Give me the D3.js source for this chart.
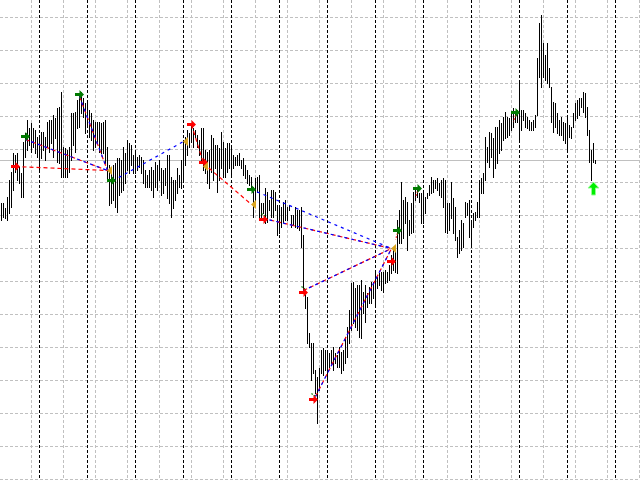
<!DOCTYPE html>
<html><head><meta charset="utf-8">
<script src="https://cdn.jsdelivr.net/npm/d3@7"></script>
<style>html,body{margin:0;padding:0;background:#fff;overflow:hidden}svg{display:block}</style>
</head><body><svg id="c" width="640" height="480"></svg>
<script>
// Bar highs / lows (price in points, 4-digit quote x 10000)
const highs = [
13397,13397,13392,13403,13420,13428,13447,13445,13447,13433,13427,13458,13467,13480,13472,13477,13472,13470,13463,13465,
13468,13468,13463,13478,13480,13480,13485,13482,13492,13493,13508,13453,13452,13450,13453,13487,13487,13488,13500,13505,
13508,13502,13497,13500,13490,13487,13480,13478,13478,13478,13477,13478,13480,13453,13435,13430,13435,13437,13442,13442,
13440,13453,13447,13460,13457,13455,13445,13448,13443,13445,13443,13440,13430,13425,13430,13433,13430,13438,13435,13440,
13432,13430,13432,13445,13445,13423,13420,13420,13432,13425,13440,13458,13463,13470,13467,13475,13472,13470,13465,13460,
13472,13472,13450,13448,13450,13465,13462,13455,13455,13452,13468,13458,13452,13457,13457,13452,13445,13443,13445,13447,
13440,13442,13435,13430,13425,13423,13413,13422,13423,13425,13397,13397,13412,13408,13400,13410,13410,13408,13395,13393,
13393,13398,13400,13393,13395,13385,13385,13393,13390,13390,13393,13365,13307,13303,13267,13257,13257,13230,13223,13232,
13250,13252,13250,13250,13247,13250,13253,13247,13245,13253,13248,13250,13263,13273,13290,13317,13318,13312,13315,13315,
13320,13308,13315,13307,13313,13318,13318,13328,13323,13327,13328,13328,13330,13328,13335,13345,13350,13348,13380,13390,
13418,13400,13403,13398,13380,13397,13408,13412,13412,13407,13407,13408,13403,13407,13415,13423,13420,13420,13422,13417,
13420,13422,13420,13397,13397,13418,13402,13393,13363,13370,13380,13377,13398,13397,13400,13380,13387,13388,13398,13420,
13422,13427,13463,13453,13468,13467,13462,13473,13473,13480,13477,13483,13488,13483,13482,13488,13492,13487,13490,13518,
13490,13490,13487,13483,13480,13478,13480,13485,13542,13577,13585,13557,13545,13557,13532,13513,13498,13497,13487,13480,
13483,13478,13477,13483,13475,13473,13487,13497,13500,13502,13502,13508,13507,13493,13470,13450,13457,13440];
const lows = [
13380,13383,13382,13380,13387,13393,13410,13428,13420,13417,13403,13403,13443,13450,13455,13448,13453,13447,13443,13430,
13442,13450,13440,13453,13448,13457,13443,13462,13438,13437,13423,13423,13423,13423,13428,13440,13455,13448,13472,13473,
13487,13483,13467,13473,13463,13460,13450,13453,13458,13448,13447,13447,13437,13422,13395,13397,13400,13393,13388,13405,
13408,13410,13417,13430,13427,13435,13427,13427,13430,13433,13427,13417,13413,13413,13413,13410,13403,13413,13410,13420,
13405,13407,13415,13402,13397,13383,13392,13400,13407,13413,13412,13418,13435,13445,13453,13458,13453,13463,13453,13445,
13440,13430,13427,13417,13412,13428,13420,13432,13408,13420,13432,13423,13423,13428,13432,13423,13432,13435,13435,13435,
13432,13425,13422,13417,13415,13410,13383,13397,13408,13380,13383,13387,13377,13378,13390,13383,13383,13390,13365,13367,
13373,13378,13380,13380,13390,13373,13375,13373,13372,13370,13353,13308,13292,13257,13253,13220,13227,13207,13177,13210,
13227,13225,13230,13220,13233,13237,13230,13237,13233,13233,13227,13230,13237,13243,13257,13270,13277,13273,13270,13263,
13262,13287,13278,13293,13297,13297,13302,13293,13312,13315,13310,13308,13317,13318,13320,13327,13330,13328,13327,13357,
13357,13362,13377,13350,13365,13367,13368,13400,13403,13398,13377,13377,13387,13402,13405,13407,13408,13412,13410,13405,
13403,13393,13368,13367,13370,13382,13367,13360,13343,13347,13350,13353,13383,13385,13363,13353,13373,13380,13383,13383,
13407,13407,13420,13438,13433,13443,13423,13432,13437,13447,13450,13460,13462,13463,13465,13470,13473,13478,13478,13460,
13470,13480,13473,13472,13470,13470,13470,13473,13485,13523,13513,13523,13520,13517,13513,13478,13468,13473,13467,13465,
13465,13460,13457,13448,13463,13462,13473,13480,13482,13485,13493,13488,13483,13465,13438,13420,13438,13437];

const priceGrid = [13583,13550,13517,13484,13451,13418,13385,13352,13319,13286,13253,13220,13187,13154,13121];
const gridBars = [15,31,47,63,79,95,111,127,143,159,175,191,207,223,239,255,271,287,303,319];
const dayStarts = [19,43,67,91,115,139,163,187,211,235,259,283,307];
const lastPrice = 13440;

// markers: [bar index, price]
const redArrows = [[7,13434],[95,13476],[101,13438],[131,13381],[151,13308],[156,13201],[195,13339]];
const greenArrows = [[12,13464],[39,13506],[55,13420],[125,13411],[198,13370],[208,13412],[257,13488]];
const goldTips = [[53,13430],[91,13459],[101,13434],[125,13396],[195,13352]];
const buySignal = [[296,13412]];

// dashed pattern lines: [[barA, priceA],[barB, priceB]]
const redLines = [
  [[7,13434],[53,13430]], [[12,13461],[53,13430]], [[39,13504],[53,13430]],
  [[95,13476],[101,13437]], [[101,13437],[125,13396]],
  [[131,13382],[195,13352]], [[151,13310],[195,13352]], [[157,13204],[195,13352]]
];
const blueLines = [
  [[12,13461],[53,13430]], [[39,13504],[53,13430]], [[56,13420],[91,13459]],
  [[125,13411],[195,13352]], [[131,13382],[195,13352]], [[151,13310],[195,13352]], [[157,13204],[195,13352]]
];
// short stub segments next to some signals
const redStubs = [[[198,13367],[197,13361]],[[208,13409],[207,13403]],[[257,13485],[256,13479]]];
const greenStubs = [[[130,13387],[132,13384]],[[150,13314],[152,13311]],[[155,13207],[157,13204]]];

const svg = d3.select("#c");
const x = d3.scaleLinear().domain([0, 319]).range([1, 639]);
const y = d3.scaleLinear().domain([13120, 13600]).range([480, 0]);

svg.append("rect").attr("width",640).attr("height",480).attr("fill","#fff");

const grid = svg.append("g").attr("shape-rendering","crispEdges");
grid.selectAll(".hg").data(priceGrid).join("line")
  .attr("x1",0).attr("x2",640)
  .attr("y1",d=>y(d)+0.5).attr("y2",d=>y(d)+0.5)
  .attr("stroke","#c0c0c0").attr("stroke-dasharray","3,2");
grid.selectAll(".vg").data(gridBars).join("line")
  .attr("x1",d=>x(d)+0.5).attr("x2",d=>x(d)+0.5)
  .attr("y1",0).attr("y2",480)
  .attr("stroke","#c0c0c0").attr("stroke-dasharray","3,2");
grid.selectAll(".sep").data(dayStarts).join("line")
  .attr("x1",d=>x(d)+0.5).attr("x2",d=>x(d)+0.5)
  .attr("y1",0).attr("y2",480)
  .attr("stroke","#000").attr("stroke-dasharray","3,2");
grid.append("line").attr("x1",0).attr("x2",640)
  .attr("y1",y(lastPrice)+0.5).attr("y2",y(lastPrice)+0.5)
  .attr("stroke","#c0c0c0");

svg.append("g").attr("shape-rendering","crispEdges")
  .selectAll("line").data(highs).join("line")
  .attr("x1",(d,i)=>x(i)+0.5).attr("x2",(d,i)=>x(i)+0.5)
  .attr("y1",d=>y(d)).attr("y2",(d,i)=>y(lows[i])+1)
  .attr("stroke","#000").attr("stroke-width",1);

function seg(sel, data, color, dash, off){
  sel.selectAll(null).data(data).join("line")
    .attr("x1",d=>x(d[0][0])+0.5).attr("y1",d=>y(d[0][1])+0.5)
    .attr("x2",d=>x(d[1][0])+0.5).attr("y2",d=>y(d[1][1])+0.5)
    .attr("stroke",color).attr("stroke-width",1.2)
    .attr("stroke-dasharray",dash).attr("stroke-dashoffset",off);
}
const lg = svg.append("g");
seg(lg, redLines, "#ff0000", "4,3", 0);
seg(lg, blueLines, "#0000ff", "3,4", 1);
seg(lg, redStubs, "#ff0000", "1.5,1.5", 0);
seg(lg, greenStubs, "#008000", "1.5,1.5", 0);

const arrowR = "M-4.5,-1.5H0V-4.5L4.5,0L0,4.5V1.5H-4.5Z";
svg.append("g").selectAll("path").data(redArrows).join("path")
  .attr("transform",d=>`translate(${x(d[0])+0.5},${y(d[1])+0.5})`)
  .attr("d",arrowR).attr("fill","#ff0000");
svg.append("g").selectAll("path").data(greenArrows).join("path")
  .attr("transform",d=>`translate(${x(d[0])+0.5},${y(d[1])+0.5})`)
  .attr("d",arrowR).attr("fill","#007a00");
svg.append("g").selectAll("path").data(goldTips).join("path")
  .attr("transform",d=>`translate(${x(d[0])},${y(d[1])+0.5})`)
  .attr("d","M0,0L5,-4.5L5,4.5Z").attr("fill","#daa520");
svg.append("g").selectAll("path").data(buySignal).join("path")
  .attr("transform",d=>`translate(${x(d[0])+0.5},${y(d[1])+0.5})`)
  .attr("d","M0,-6.5L5.5,-0.5H2V6.5H-2V-0.5H-5.5Z")
  .attr("fill","#00ee00").attr("stroke","#90ff90").attr("stroke-width",1);
</script></body></html>
